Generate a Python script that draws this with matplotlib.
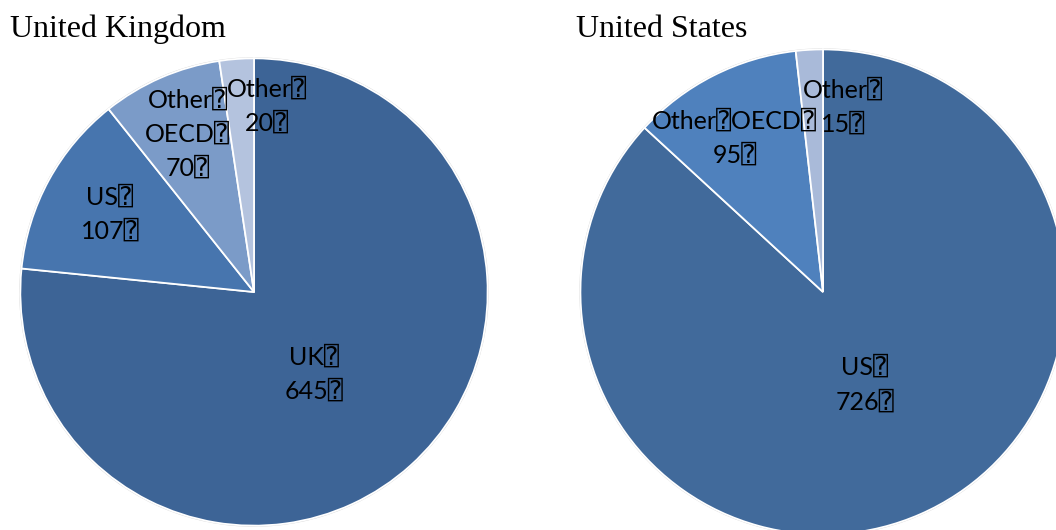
import numpy as np
import matplotlib.pyplot as plt

# origin of users, by region (thousands)
uk_regions = ['UK', 'US', 'Other\nOECD', 'Other']
uk_values = [645, 107, 70, 20]
us_regions = ['US', 'Other OECD', 'Other']
us_values = [726, 95, 15]

uk_colors = ['#3D6496', '#4775AE', '#7B9BC8', '#B4C3DE']
us_colors = ['#416A9B', '#4F81BD', '#A9BAD9']

# label centres in units of the pie radius
uk_label_pos = [(0.255, -0.349), (-0.617, 0.336), (-0.285, 0.677), (0.055, 0.796)]
us_label_pos = [(0.172, -0.381), (-0.365, 0.635), (0.082, 0.762)]

BOX = '\u2370'
label_font = ['Lato', 'DejaVu Sans', 'DejaVu Sans Mono']


def make_label(name, val):
    txt = name.replace('\n', BOX + '\n').replace(' ', BOX)
    return txt + BOX + '\n' + str(val) + BOX


def draw_pie(ax, names, values, colors, label_pos, title, title_xy):
    ax.pie(values, colors=colors, startangle=90, counterclock=False, radius=1,
           wedgeprops=dict(edgecolor='white', linewidth=1.3))
    ax.add_patch(plt.Circle((0, 0), 1.0, fill=False, edgecolor='#d4d4d4', linewidth=1.6, zorder=0.5))
    for name, val, (x, y) in zip(names, values, label_pos):
        ax.text(x, y, make_label(name, val), ha='center', va='center', fontsize=18,
                family=label_font, linespacing=1.55, color='black')
    ax.set_xlim(-1.01, 1.01)
    ax.set_ylim(-1.01, 1.01)
    ax.set_aspect('equal')
    ax.axis('off')
    fig.text(title_xy[0], title_xy[1], title, fontsize=23, family='Liberation Serif',
             ha='left', va='baseline')


fig = plt.figure(figsize=(10.56, 5.3), dpi=100)
ax1 = fig.add_axes([18 / 1056, (530 - 528) / 530, 472 / 1056, 472 / 530])
ax2 = fig.add_axes([578 / 1056, (530 - 537) / 530, 490 / 1056, 490 / 530])

draw_pie(ax1, uk_regions, uk_values, uk_colors, uk_label_pos, 'United Kingdom', (10 / 1056, 1 - 37 / 530))
draw_pie(ax2, us_regions, us_values, us_colors, us_label_pos, 'United States', (576 / 1056, 1 - 37 / 530))

fig.savefig('out.png', dpi=100)
